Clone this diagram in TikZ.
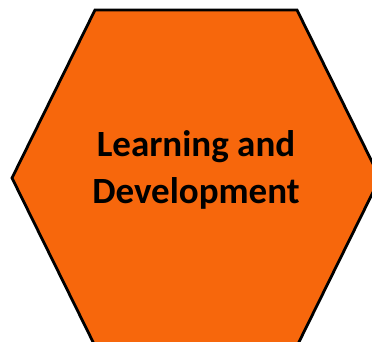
\documentclass[tikz,border=0pt]{standalone}
\usepackage{fontspec}
\setmainfont{Carlito}
\definecolor{hexorange}{RGB}{247,103,12}
\tikzset{
	hexface/.style={fill=hexorange,draw=black,line width=2.8pt,line join=miter}, % the big hexagon
	hexlabel/.style={font=\fontsize{37}{47}\selectfont\bfseries,align=center,text=black},
}

\begin{document}
\begin{tikzpicture}[x=1pt,y=1pt]
		% fix the page to the reference size
		\useasboundingbox (0,0) rectangle (372,342);
		
		% hexagon, cut by the page edges at right and bottom
		\begin{scope}
		\clip (0,0) rectangle (372,342);
		\draw[hexface] (95,332) -- (297,332) -- (380,164) -- (297,-4) -- (95,-4) -- (12,164) -- cycle;
		\end{scope}
		
		% label in the middle
		\node[hexlabel] (title) at (196,172) {Learning and\\Development};
		
\end{tikzpicture}
\end{document}
